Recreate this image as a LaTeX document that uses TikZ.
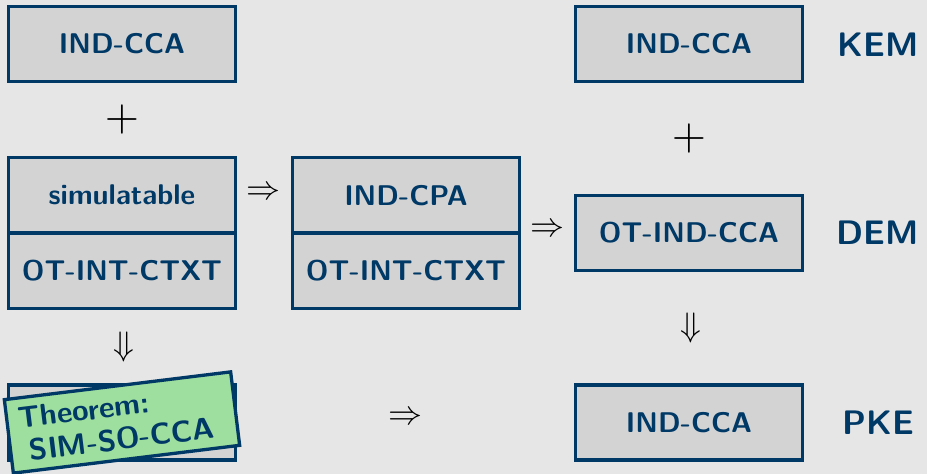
\documentclass[tikz,border=0pt]{standalone}
\usepackage{fontspec}
\newfontfamily\lmsb{lmsans10-bold}[Extension=.otf]
\definecolor{bgc}{HTML}{E6E6E6}
\definecolor{boxgray}{HTML}{D3D3D3}
\definecolor{dblue}{HTML}{003866}
\definecolor{thmgreen}{HTML}{9EDE9E}
\begin{document}
\begin{tikzpicture}[x=1pt,y=-1pt,
  box/.style={draw=dblue, fill=boxgray, line width=3.3pt, minimum width=227pt, minimum height=75pt, inner sep=0pt,
    font=\lmsb\fontsize{28.5}{34}\selectfont, text=dblue},
  dbox/.style={box, minimum height=75.5pt},
  lab/.style={font=\lmsb\fontsize{34}{40}\selectfont, text=dblue},
  sym/.style={inner sep=0pt, scale=3.4},
  plussym/.style={inner sep=0pt, scale=4.4},
  thm/.style={draw=dblue, fill=thmgreen, line width=3.3pt, minimum width=228pt, minimum height=74pt, inner sep=0pt,
    text width=208pt, align=left, font=\lmsb\fontsize{30}{33}\selectfont, text=dblue}]
\fill[bgc] (0,0) rectangle (927,474);
\useasboundingbox (0,0) rectangle (927,474);
% left column
\node[box] (a1) at (122,44) {IND-CCA};
\node[plussym] (p1) at (122,119) {$+$};
\node[dbox] (a2) at (122,195.25) {simulatable};
\node[dbox] (a3) at (122,270.75) {OT-INT-CTXT};
\node[sym] (d1) at (124,347) {$\Downarrow$};
\node[box] (a4) at (122,422.5) {};
\node[thm, rotate=7] (t1) at (122,422.5) {\hspace*{2pt}Theorem:\\\hspace*{9pt}SIM-SO-CCA};
% middle column
\node[sym] (r1) at (263,193) {$\Rightarrow$};
\node[dbox] (b1) at (406,195.25) {IND-CPA};
\node[dbox] (b2) at (406,270.75) {OT-INT-CTXT};
\node[sym] (r3) at (405,418) {$\Rightarrow$};
\node[sym] (r2) at (547,230) {$\Rightarrow$};
% right column
\node[box] (c1) at (689,44) {IND-CCA};
\node[plussym] (p2) at (689,138) {$+$};
\node[box] (c2) at (689,233) {OT-IND-CCA};
\node[sym] (d2) at (691,328) {$\Downarrow$};
\node[box] (c3) at (689,422.5) {IND-CCA};
\node[lab] (k1) at (878,45) {KEM};
\node[lab] (k2) at (878,233) {DEM};
\node[lab] (k3) at (878,423) {PKE};
\end{tikzpicture}
\end{document}
